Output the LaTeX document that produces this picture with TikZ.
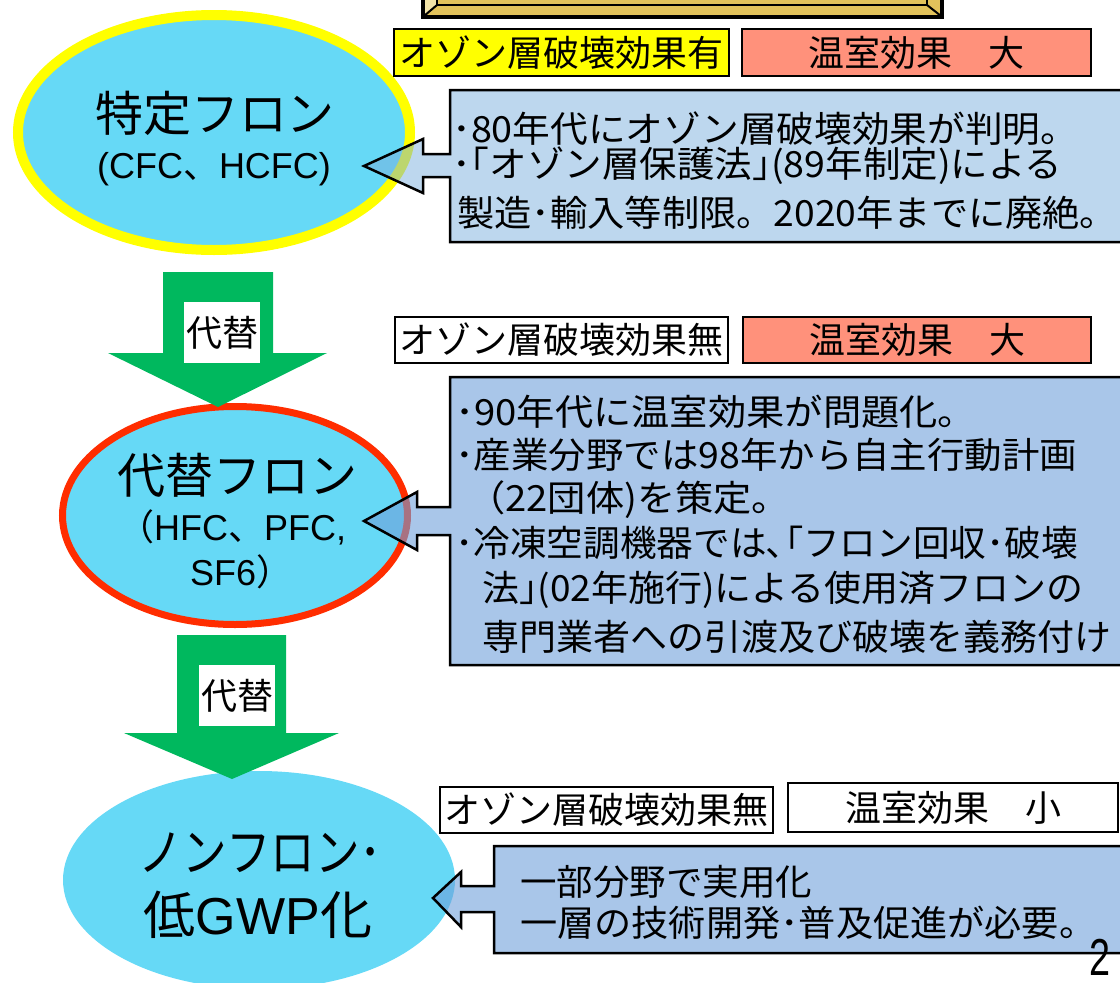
\documentclass[tikz,border=0pt]{standalone}
\usepackage{fontspec}
\setmainfont{Noto Sans CJK JP}
\newfontfamily\arf{Liberation Sans}
\usetikzlibrary{shapes.geometric}
\definecolor{goldc}{HTML}{E2C25B}
\definecolor{palegold}{HTML}{F3E4A8}
\definecolor{ecyan}{HTML}{66D9F6}
\definecolor{yelc}{HTML}{FFFF00}
\definecolor{redb}{HTML}{FF2D00}
\definecolor{grn}{HTML}{00B85E}
\definecolor{salmon}{HTML}{FF917B}
\definecolor{calla}{HTML}{7BAFDD}
\definecolor{callb}{HTML}{6FA0DA}
\newcommand\fitto[2]{\resizebox{#1}{\height}{#2}}
\newcommand\fs[1]{\fontsize{#1}{#1}\selectfont}
\tikzset{
  lbl/.style={draw=black, line width=2.5pt, inner sep=0pt, font=\fs{36}},
  ell/.style={ellipse, inner sep=0pt, fill=ecyan},
  calloutbox/.style={draw=black, line width=2.5pt, line join=miter},
  txt/.style={inner sep=0pt, font=\fs{36}},
  bigarrow/.style={fill=grn},
  arrlabel/.style={fill=white, inner sep=0pt, minimum width=76pt, minimum height=61pt, font=\fs{36}}
}
\begin{document}
\begin{tikzpicture}[x=1pt,y=-1pt]
\useasboundingbox (0,0) rectangle (1120,983);
\clip (0,0) rectangle (1120,983);

% top gold frame
\fill[goldc] (423,-12) rectangle (942,17);
\fill[palegold] (423,-12) -- (437,-12) -- (437,5) -- (423,17) -- cycle;
\draw[line width=2pt] (437,-12) -- (437,5) -- (927,5) -- (927,-12);
\draw[line width=2pt] (424,16) -- (437,5) (941,16) -- (927,5);
\draw[line width=3.5pt] (423,-12) rectangle (942,17);

% ellipses
\node[ell, draw=yelc, line width=10pt, minimum width=392pt, minimum height=235pt] (e1) at (214,132.5) {};
\node[ell, draw=redb, line width=7pt, minimum width=345pt, minimum height=218pt] (e2) at (235,515.5) {};
\node[ell, minimum width=392pt, minimum height=218pt] (e3) at (259,880) {};

% callouts
\draw[calloutbox, fill=calla, fill opacity=0.5]
  (450,90) -- (1130,90) -- (1130,242) -- (450,242) -- (450,177) -- (423,177)
  -- (423,193) -- (364,166) -- (423,139) -- (423,154) -- (450,154) -- cycle;
\draw[calloutbox, fill=callb, fill opacity=0.6]
  (450,377) -- (1130,377) -- (1130,665) -- (450,665) -- (450,535) -- (417,535)
  -- (417,550) -- (364,521) -- (417,492) -- (417,507) -- (450,507) -- cycle;
\draw[calloutbox, fill=callb, fill opacity=0.6]
  (494,846) -- (1130,846) -- (1130,953) -- (494,953) -- (494,912) -- (461,912)
  -- (461,927) -- (433,898) -- (461,872) -- (461,886) -- (494,886) -- cycle;

% green arrows
\fill[bigarrow] (163,272) -- (273,272) -- (273,353) -- (327,353) -- (218,407)
  -- (108,353) -- (163,353) -- cycle;
\fill[bigarrow] (177,635) -- (286,635) -- (286,733) -- (339,733) -- (232,779)
  -- (124,733) -- (177,733) -- cycle;
\node[arrlabel] (g1) at (222,332.5) {代替};
\node[arrlabel] (g2) at (237,695.5) {代替};

% label boxes
\node[lbl, fill=yelc, minimum width=335pt, minimum height=47pt] (o1) at (561.5,52.5) {オゾン層破壊効果有};
\node[lbl, fill=salmon, minimum width=349pt, minimum height=47pt] (w1) at (916.5,52.5) {温室効果　大};
\node[lbl, fill=white, minimum width=333pt, minimum height=46pt] (o2) at (561.5,340) {オゾン層破壊効果無};
\node[lbl, fill=salmon, minimum width=348pt, minimum height=46pt] (w2) at (917,340) {温室効果　大};
\node[lbl, fill=white, minimum width=333pt, minimum height=46pt] (o3) at (606.5,810) {オゾン層破壊効果無};
\node[lbl, fill=white, minimum width=330pt, minimum height=49pt] (w3) at (953,807.5) {温室効果　小};

% ellipse texts
\node[txt, font=\fs{48}] (t1a) at (215,113.5) {特定フロン};
\node[txt] (t1b) at (214,169) {{\arf (CFC}、{\arf HCFC)}};
\node[txt, font=\fs{48}] (t2a) at (237.5,475) {代替フロン};
\node[txt, anchor=west] (t2b) at (118,527) {（{\arf HFC}、{\arf PFC,}};
\node[txt, anchor=west] (t2c) at (190,572) {{\arf SF6}）};
\node[txt, anchor=west, font=\fs{52}] (t3a) at (138,853) {\fitto{244pt}{ノンフロン･}};
\node[txt, font=\fs{52}] (t3b) at (258,915) {低{\arf GWP}化};

% callout texts
\node[txt, anchor=west] (c1a) at (452,129) {\fitto{626pt}{･80年代にオゾン層破壊効果が判明。}};
\node[txt, anchor=west] (c1b) at (452,166) {\fitto{610pt}{･｢オゾン層保護法｣(89年制定)による}};
\node[txt, anchor=west] (c1c) at (457,213) {\fitto{660pt}{製造･輸入等制限。2020年までに廃絶。}};

\node[txt, anchor=west] (c2a) at (455,412) {\fitto{521pt}{･90年代に温室効果が問題化。}};
\node[txt, anchor=west] (c2b) at (455,455) {\fitto{622pt}{･産業分野では98年から自主行動計画}};
\node[txt, anchor=west] (c2c) at (467,500) {\fitto{323pt}{（22団体)を策定。}};
\node[txt, anchor=west] (c2d) at (455,543) {\fitto{623pt}{･冷凍空調機器では､｢フロン回収･破壊}};
\node[txt, anchor=west] (c2e) at (482,590) {\fitto{601pt}{法｣(02年施行)による使用済フロンの}};
\node[txt, anchor=west] (c2f) at (482,637) {\fitto{629pt}{専門業者への引渡及び破壊を義務付け}};

\node[txt, anchor=west] (c3a) at (520,882) {\fitto{292pt}{一部分野で実用化}};
\node[txt, anchor=west] (c3b) at (520,923) {\fitto{576pt}{一層の技術開発･普及促進が必要。}};

% page number
\node[inner sep=0pt, font=\arf\fs{52}] (pg) at (1100,957) {\fitto{21pt}{2}};
\end{tikzpicture}
\end{document}
